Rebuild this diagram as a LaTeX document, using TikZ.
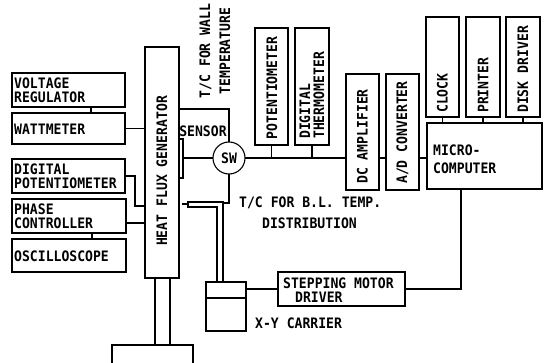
\documentclass[tikz,border=0pt]{standalone}
\usepackage{fontspec}
\setmainfont[FakeStretch=0.91]{DejaVu Sans Mono}
\begin{document}
\begin{tikzpicture}[x=1pt,y=-1pt,
  box/.style={draw, line width=1.1pt, inner sep=0pt, outer sep=0pt},
  lbl/.style={inner sep=0pt, font=\fontsize{14.4}{14}\selectfont\bfseries, align=left},
  rlbl/.style={lbl, rotate=90},
  wire/.style={line width=1.1pt}]
\useasboundingbox[fill=white] (0,0) rectangle (552,363);
% boxes
\node[box, minimum width=34, minimum height=231] (hfg) at (162,162.5) {};
\node[box, minimum width=113, minimum height=34] (vr) at (68.5,90) {};
\node[box, minimum width=113, minimum height=31] (watt) at (68.5,128.5) {};
\node[box, minimum width=113, minimum height=34] (dpot) at (68.5,176) {};
\node[box, minimum width=114, minimum height=34] (phase) at (69,216) {};
\node[box, minimum width=114, minimum height=33] (osc) at (69,255.5) {};
\node[box, minimum width=4, minimum height=39] (sens) at (181,158.5) {};
\node[box, circle, minimum size=32, font=\fontsize{14.4}{14}\selectfont\bfseries] (sw) at (229,158) {SW};
\node[box, minimum width=33, minimum height=117] (pot) at (271.5,86.5) {};
\node[box, minimum width=34, minimum height=117] (dth) at (312,86.5) {};
\node[box, minimum width=33, minimum height=116] (dca) at (362.5,132) {};
\node[box, minimum width=33, minimum height=116] (adc) at (402.5,132) {};
\node[box, minimum width=115, minimum height=66] (mc) at (484.5,156) {};
\node[box, minimum width=33, minimum height=100] (clk) at (442.5,67) {};
\node[box, minimum width=34, minimum height=100] (prn) at (483,67) {};
\node[box, minimum width=34, minimum height=100] (dsk) at (523,67) {};
\node[box, minimum width=127, minimum height=34] (stp) at (341.5,289) {};
\node[box, minimum width=40, minimum height=49] (car) at (226,306.5) {};
% labels
\node[lbl, anchor=west] (tvr) at (14,90.5) {VOLTAGE\\REGULATOR};
\node[lbl, anchor=west] (twatt) at (14,129) {WATTMETER};
\node[lbl, anchor=west] (tdpot) at (14,176) {DIGITAL\\POTENTIOMETER};
\node[lbl, anchor=west] (tphase) at (14,216) {PHASE\\CONTROLLER};
\node[lbl, anchor=west] (tosc) at (14,256) {OSCILLOSCOPE};
\node[rlbl] (thfg) at (162,171) {HEAT FLUX GENERATOR};
\node[rlbl] (tpot) at (272,88) {POTENTIOMETER};
\node[rlbl, anchor=west] (tdth) at (312,139) {DIGITAL\\THERMOMETER};
\node[rlbl, anchor=west] (tdca) at (362.5,184) {DC AMPLIFIER};
\node[rlbl, anchor=west] (tadc) at (402.5,184) {A/D CONVERTER};
\node[rlbl, anchor=west] (tclk) at (442.5,113) {CLOCK};
\node[rlbl, anchor=west] (tprn) at (483,113) {PRINTER};
\node[rlbl, anchor=west] (tdsk) at (523,113) {DISK DRIVER};
\node[rlbl, align=center] (twall) at (215,51) {T/C FOR WALL\\[6pt]TEMPERATURE};
\node[lbl] (tsens) at (203,131) {SENSOR};
\node[lbl, anchor=west] (tbl) at (239,203) {T/C FOR B.L. TEMP.};
\node[lbl, anchor=west] (tdist) at (262,223) {DISTRIBUTION};
\node[lbl, anchor=west] (tmc) at (433,159) {MICRO-\\[4pt]COMPUTER};
\node[lbl, anchor=west] (tstp) at (283,283) {STEPPING MOTOR};
\node[lbl, anchor=west] (tdrv) at (295,297) {DRIVER};
\node[lbl, anchor=west] (tcar) at (255,323) {X-Y CARRIER};
% helper coordinates
\coordinate (dp) at (135,206);
\coordinate (c109) at (0,109);
\coordinate (c461) at (461,0);
\coordinate (pr) at (223,203);
\coordinate (po) at (223,202);
\coordinate (pa) at (188,202);
\coordinate (pb) at (188,207);
\coordinate (pc) at (217,207);
\coordinate (sa) at (182,204);
\coordinate (sb) at (188,204);
\coordinate (bl) at (112,345);
\coordinate (br) at (193,345);
\coordinate (bll) at (112,363);
\coordinate (brr) at (193,363);
% connectors
\draw[wire] ([xshift=22.5pt]vr.south) -- ([xshift=22.5pt]vr.south |- watt.north);
\draw[wire] (watt.east) -- (watt.east -| hfg.west);
\draw[wire] (dpot.east) -| (dp) -- (dp -| hfg.west);
\draw[wire] ([yshift=-7pt]phase.east) -- ([yshift=-7pt]phase.east -| hfg.west);
\draw[wire] ([xshift=23pt]phase.south) -- ([xshift=23pt]phase.south |- osc.north);
\draw[wire] (hfg.east |- c109) -- (sw.north |- c109) -- (sw.north);
\draw[wire] (sens.east |- sw) -- (sw.west);
\draw[wire] (sw.east) -- (sw.east -| dca.west);
\draw[wire] (pot.south) -- (pot.south |- sw);
\draw[wire] (dth.south) -- (dth.south |- sw);
\draw[wire] (dca.east |- sw) -- (adc.west |- sw);
\draw[wire] (adc.east |- sw) -- (mc.west |- sw);
\draw[wire] (clk.south) -- (clk.south |- mc.north);
\draw[wire] (prn.south) -- (prn.south |- mc.north);
\draw[wire] (dsk.south) -- (dsk.south |- mc.north);
\draw[wire] (mc.south -| c461) -- (c461 |- stp.east) -- (stp.east);
\draw[wire] (car.east |- stp.east) -- (stp.west);
\draw[wire] (sw.south) -- (sw.south |- pr) -- (pr);
\draw[wire] (po |- car.north) -- (po) -- (pa) -- (pb) -- (pc) -- (pc |- car.north);
\draw[wire] (sa) -- (sb);
\draw[wire] ([yshift=8.5pt]car.west) -- ([yshift=8.5pt]car.east);
\draw[wire] ([xshift=-7pt]hfg.south) -- ([xshift=-7pt]hfg.south |- bl);
\draw[wire] ([xshift=8pt]hfg.south) -- ([xshift=8pt]hfg.south |- bl);
\draw[wire] (bll) -- (bl) -- (br) -- (brr);
\end{tikzpicture}
\end{document}
